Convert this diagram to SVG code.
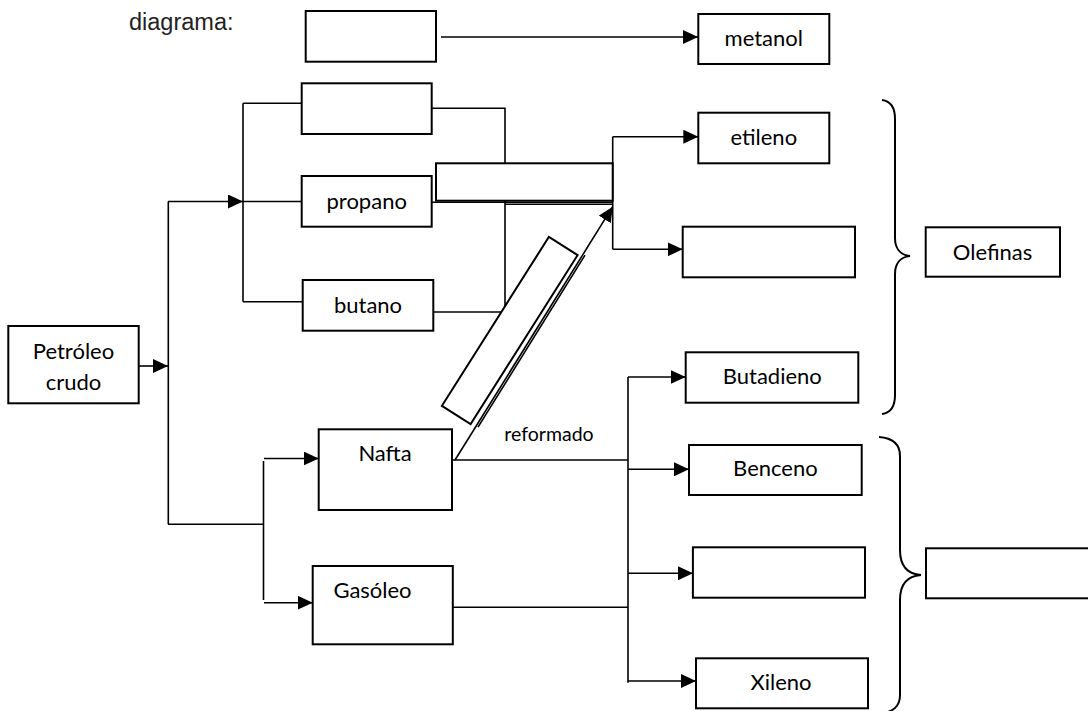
<svg xmlns="http://www.w3.org/2000/svg" width="1088" height="711" viewBox="0 0 1088 711">
  <defs>
    <marker id="ah" markerUnits="userSpaceOnUse" markerWidth="16" markerHeight="14" refX="15" refY="7" orient="auto">
      <path d="M0,0 L15,7 L0,14 z" fill="#000"/>
    </marker>
    <style>
      .box { fill: #fff; stroke: #000; stroke-width: 2; }
      .ln { fill: none; stroke: #000; stroke-width: 1.6; }
      .arr { fill: none; stroke: #000; stroke-width: 1.6; marker-end: url(#ah); }
      .lbl { font-family: Lato, "Liberation Sans", sans-serif; font-size: 22px; fill: #000; text-anchor: middle; }
      .small { font-size: 19.5px; }
      .brace { fill: none; stroke: #000; stroke-width: 2; }
    </style>
  </defs>
  <rect width="1088" height="711" fill="#fff"/>

  <text x="129" y="30" font-family="Liberation Sans, Arial, sans-serif" font-size="23.5" fill="#222">diagrama:</text>

  <!-- connectors -->
  <g id="connectors">
    <line class="arr" x1="441" y1="37" x2="698" y2="37"/>
    <line class="arr" x1="139" y1="366" x2="168" y2="366"/>
    <line class="ln" x1="168.3" y1="201.5" x2="168.3" y2="524.3"/>
    <line class="arr" x1="168" y1="201.5" x2="243" y2="201.5"/>
    <line class="ln" x1="243" y1="103.3" x2="243" y2="301.7"/>
    <line class="ln" x1="243" y1="103.3" x2="302" y2="103.3"/>
    <line class="ln" x1="243" y1="201.5" x2="302" y2="201.5"/>
    <line class="ln" x1="243" y1="301.7" x2="303" y2="301.7"/>
    <polyline class="ln" points="431.7,108.3 505,108.3 505,312"/>
    <line class="ln" x1="433" y1="312" x2="505" y2="312"/>
    <line class="ln" x1="431.7" y1="202.2" x2="612.7" y2="202.2"/>
    <line class="ln" x1="505" y1="204.2" x2="612.7" y2="204.2" stroke-width="1.1"/>
    <line class="ln" x1="612.7" y1="136.7" x2="612.7" y2="249.3"/>
    <line class="arr" x1="612.7" y1="136.7" x2="698.3" y2="136.7"/>
    <line class="arr" x1="612.7" y1="249.3" x2="682.7" y2="249.3"/>
    <line class="arr" x1="455" y1="460" x2="612.7" y2="206.7"/>
    <line class="ln" x1="476" y1="426" x2="583" y2="254" stroke-width="1.1" transform="translate(2,1.2)"/>
    <line class="ln" x1="453" y1="460" x2="628" y2="460"/>
    <line class="ln" x1="628" y1="377" x2="628" y2="682.7"/>
    <line class="arr" x1="628" y1="377" x2="685.7" y2="377"/>
    <line class="arr" x1="628" y1="469.3" x2="689" y2="469.3"/>
    <line class="arr" x1="628" y1="573.3" x2="692.9" y2="573.3"/>
    <line class="arr" x1="628" y1="681" x2="696" y2="681"/>
    <line class="ln" x1="452.8" y1="607.3" x2="628" y2="607.3"/>
    <line class="ln" x1="168" y1="524.3" x2="263.5" y2="524.3"/>
    <line class="ln" x1="263.5" y1="461" x2="263.5" y2="600"/>
    <line class="arr" x1="264" y1="458.5" x2="318.7" y2="458.5"/>
    <line class="arr" x1="264" y1="602.7" x2="312.7" y2="602.7"/>
  </g>

  <!-- nodes -->
  <g id="n-top-empty"><rect class="box" x="305.7" y="11" width="130.3" height="50.7"/></g>
  <g id="n-metanol"><rect class="box" x="698.3" y="14" width="131" height="50"/><text class="lbl" x="763.8" y="46">metanol</text></g>
  <g id="n-gas-empty"><rect class="box" x="301.7" y="83.3" width="130" height="50.7"/></g>
  <g id="n-propano"><rect class="box" x="301.7" y="176" width="130" height="50.7"/><text class="lbl" x="366.7" y="209">propano</text></g>
  <g id="n-butano"><rect class="box" x="302.7" y="280" width="130.6" height="50.7"/><text class="lbl" x="368" y="313">butano</text></g>
  <g id="n-wide-empty"><rect class="box" x="436" y="163.3" width="176.7" height="37.4"/></g>
  <g id="n-etileno"><rect class="box" x="698.3" y="112.7" width="131" height="50.6"/><text class="lbl" x="763.8" y="145">etileno</text></g>
  <g id="n-olefin-empty"><rect class="box" x="682.7" y="226.7" width="172.3" height="50.6"/></g>
  <g id="n-slanted-empty"><rect class="box" x="-100" y="-17" width="200" height="34" transform="translate(509.75,330.5) rotate(-57.66)"/></g>
  <g id="n-petroleo"><rect class="box" x="8.3" y="326" width="130.4" height="77.3"/><text class="lbl" x="73.5" y="359">Petróleo</text><text class="lbl" x="73.5" y="390">crudo</text></g>
  <g id="n-nafta"><rect class="box" x="318.7" y="429.3" width="133.3" height="80.7"/><text class="lbl" x="385" y="461">Nafta</text></g>
  <text class="lbl small" x="549" y="441">reformado</text>
  <g id="n-gasoleo"><rect class="box" x="312.7" y="566" width="140.1" height="78.3"/><text class="lbl" x="372.5" y="598">Gasóleo</text></g>
  <g id="n-butadieno"><rect class="box" x="685.7" y="352.3" width="172.6" height="50.4"/><text class="lbl" x="772.3" y="384">Butadieno</text></g>
  <g id="n-benceno"><rect class="box" x="689" y="445" width="172.7" height="50"/><text class="lbl" x="775.4" y="476">Benceno</text></g>
  <g id="n-arom-empty"><rect class="box" x="692.9" y="547.3" width="172.1" height="50.4"/></g>
  <g id="n-xileno"><rect class="box" x="696" y="658.3" width="172" height="50"/><text class="lbl" x="781" y="690">Xileno</text></g>
  <g id="n-olefinas"><rect class="box" x="925.7" y="227.3" width="134.3" height="49.4"/><text class="lbl" x="992.5" y="260">Olefinas</text></g>
  <g id="n-group-empty"><rect class="box" x="926" y="548.3" width="180" height="50"/></g>

  <!-- braces -->
  <g id="braces">
    <path class="brace" d="M882,100 C890,101 895,107 895,119 L895,238 C895,248 900,255 910,256 C900,257 895,264 895,274 L895,395 C895,407 890,413 882,414"/>
    <path class="brace" d="M879,437 C893,438 900,444 900,456 L900,550 C900,565 907,574 921,575 C907,576 900,585 900,600 L900,695 C900,706 893,712 882,713"/>
  </g>
</svg>
